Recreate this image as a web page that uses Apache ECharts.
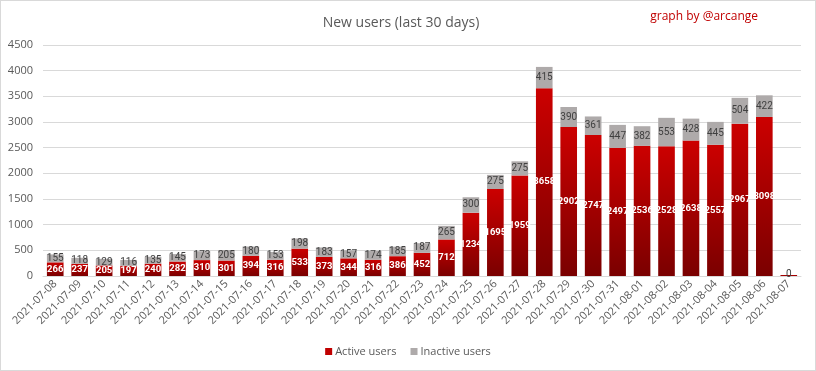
<!DOCTYPE html>
<html><head><meta charset="utf-8">
<script src="https://cdn.jsdelivr.net/npm/echarts@6/dist/echarts.min.js"></script>
<style>
html,body{margin:0;padding:0;background:#fff;}
#c{width:816px;height:371px;box-sizing:border-box;border:1px solid #d9d9d9;}
</style></head>
<body><div id="c"></div>
<script>
const dates = ['2021-07-08','2021-07-09','2021-07-10','2021-07-11','2021-07-12','2021-07-13','2021-07-14','2021-07-15','2021-07-16','2021-07-17','2021-07-18','2021-07-19','2021-07-20','2021-07-21','2021-07-22','2021-07-23','2021-07-24','2021-07-25','2021-07-26','2021-07-27','2021-07-28','2021-07-29','2021-07-30','2021-07-31','2021-08-01','2021-08-02','2021-08-03','2021-08-04','2021-08-05','2021-08-06','2021-08-07'];
const activeUsers = [266,237,205,197,240,282,310,301,394,316,533,373,344,316,386,452,712,1234,1695,1959,3658,2902,2747,2497,2536,2528,2638,2557,2967,3098,20];
const inactiveUsers = [155,118,129,116,135,145,173,205,180,153,198,183,157,174,185,187,265,300,275,275,415,390,361,447,382,553,428,445,504,422,0];
const yTicks = {min:0, max:4500, interval:500};

const chart = echarts.init(document.getElementById('c'), null, {renderer:'canvas'});
const font = 'Open Sans';
const lab = 'Roboto';
chart.setOption({
  animation:false,
  title:[
    {text:'New users (last 30 days)', left:395, top:10, textAlign:'center',
     textStyle:{fontFamily:font, fontSize:14, fontWeight:'normal', color:'#595959'}},
    {text:'graph by @arcange', right:52, top:5,
     textStyle:{fontFamily:font, fontSize:12, fontWeight:'normal', color:'#c00000'}}
  ],
  legend:{
    bottom:8, left:'center', itemWidth:7, itemHeight:7, itemGap:14,
    icon:'rect',
    textStyle:{fontFamily:font, fontSize:11, color:'#595959', padding:[0,0,0,-2]},
    data:[{name:'Active users', itemStyle:{color:'#c00000'}},{name:'Inactive users', itemStyle:{color:'#aeaaaa'}}]
  },
  grid:{left:42, right:14, top:44, bottom:94, containLabel:false},
  xAxis:{
    type:'category', data:dates,
    axisLine:{lineStyle:{color:'#d9d9d9'}},
    axisTick:{show:false},
    axisLabel:{rotate:45, interval:0, fontFamily:font, fontSize:11, color:'#595959', margin:6}
  },
  yAxis:{
    type:'value', min:yTicks.min, max:yTicks.max, interval:yTicks.interval,
    axisLine:{show:false}, axisTick:{show:false},
    splitLine:{lineStyle:{color:'#d9d9d9'}},
    axisLabel:{fontFamily:font, fontSize:11, color:'#595959', margin:10, formatter:v=>String(v)}
  },
  series:[
    {name:'Active users', type:'bar', stack:'u', data:activeUsers, barWidth:'68%',
     itemStyle:{color:new echarts.graphic.LinearGradient(0,0,0,1,[{offset:0,color:'#cc0000'},{offset:1,color:'#7a0000'}])},
     label:{show:true, position:'inside', overflow:'none', fontFamily:lab, fontSize:9.5, fontWeight:'bold', color:'#fff',
       formatter:p=> p.value >= 100 ? String(p.value) : ''}},
    {name:'Inactive users', type:'bar', stack:'u', data:inactiveUsers, barWidth:'68%',
     itemStyle:{color:'#aeaaaa'},
     label:{show:true, position:'inside', overflow:'none', fontFamily:lab, fontSize:10, color:'#404040'}}
  ]
});
</script></body></html>
